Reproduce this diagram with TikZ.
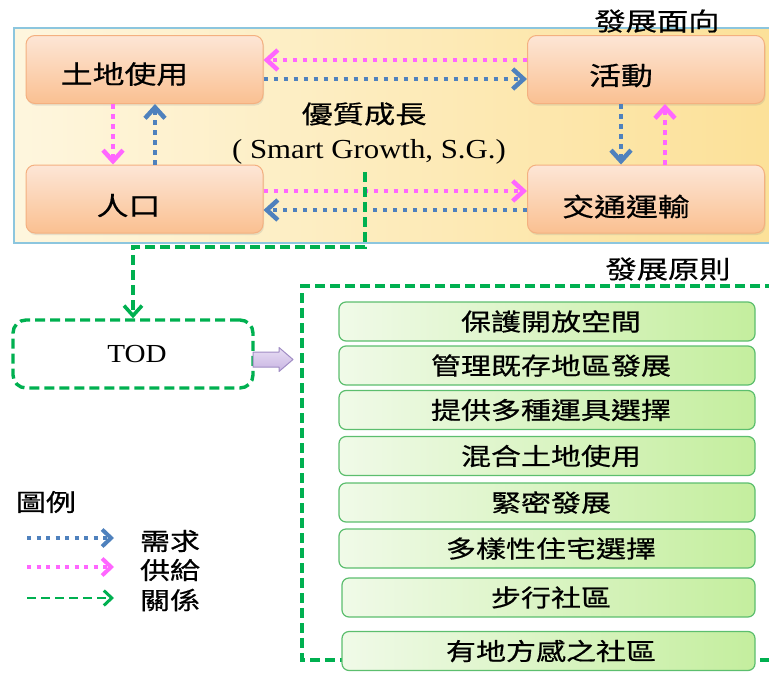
\documentclass[tikz,border=0pt]{standalone}
\usepackage{fontspec}
\newfontfamily\cjk{Noto Sans CJK TC}[FakeStretch=1.25,FakeBold=0.6]
\newfontfamily\serifw{Liberation Serif}[FakeStretch=1.12]
\usetikzlibrary{arrows.meta,shadows}
\definecolor{dblue}{RGB}{79,129,189}
\definecolor{dpink}{RGB}{255,102,255}
\definecolor{dgreen}{RGB}{0,176,80}
\definecolor{panelline}{RGB}{140,198,222}
\definecolor{panelL}{RGB}{254,246,222}
\definecolor{panelR}{RGB}{252,224,150}
\definecolor{orT}{RGB}{253,230,214}
\definecolor{orB}{RGB}{250,192,145}
\definecolor{orline}{RGB}{244,176,128}
\definecolor{grL}{RGB}{240,250,232}
\definecolor{grR}{RGB}{196,238,158}
\definecolor{grline}{RGB}{92,190,110}
\definecolor{purT}{RGB}{232,222,244}
\definecolor{purB}{RGB}{200,180,226}
\definecolor{purD}{RGB}{160,140,196}
\tikzset{
  orbox/.style={rectangle, rounded corners=9pt, draw=orline, line width=1pt,
    top color=orT, bottom color=orB, minimum width=237pt, minimum height=68pt,
    inner sep=0pt,
    drop shadow={opacity=0.18, shadow xshift=1pt, shadow yshift=-2pt}},
  ortext/.style={inner sep=0pt, font=\cjk\fontsize{25.5}{28}\selectfont},
  grbox/.style={rectangle, rounded corners=7pt, draw=grline, line width=1.2pt,
    left color=grL, right color=grR, minimum height=39pt,
    inner sep=0pt, font=\cjk\fontsize{24}{27}\selectfont},
  cjklbl/.style={inner sep=0pt, font=\cjk\fontsize{25}{28}\selectfont},
  tip/.style={-{Straight Barb[length=11pt,width=20pt,line width=4.5pt]}},
  bluedot/.style={draw=dblue, line width=3.8pt, dash pattern=on 4.5pt off 5.5pt, tip},
  pinkdot/.style={draw=dpink, line width=3.8pt, dash pattern=on 4.5pt off 5.5pt, tip},
  greendash/.style={draw=dgreen, line width=3.4pt, dash pattern=on 10pt off 5pt},
  legtip/.style={-{Straight Barb[length=9pt,width=17pt,line width=4pt]}},
  legtext/.style={inner sep=0pt, font=\cjk\fontsize{24}{27}\selectfont},
}
\begin{document}
\begin{tikzpicture}[x=1pt,y=-1pt]
\useasboundingbox (0,0) rectangle (769,673);
\clip (0,0) rectangle (769,673);
% panel
\node[rectangle, draw=panelline, line width=1.5pt, left color=panelL, right color=panelR,
  minimum width=780pt, minimum height=215pt, inner sep=0pt, anchor=north west] (panel) at (13,27) {};
% orange boxes
\node[orbox] (land) at (144.5,69.5) {};
\node[orbox] (pop)  at (144.5,199) {};
\node[orbox] (act)  at (646,69.5) {};
\node[orbox] (tra)  at (646,199) {};
\node[ortext] (landt) at ([xshift=-20pt,yshift=-4.5pt]land.center) {土地使用};
\node[ortext] (popt)  at ([xshift=-16pt,yshift=-6.5pt]pop.center) {人口};
\node[ortext] (actt)  at ([xshift=-25pt,yshift=-6pt]act.center) {活動};
\node[ortext] (trat)  at ([xshift=-20pt,yshift=-7.5pt]tra.center) {交通運輸};
% labels
\node[cjklbl] (face) at (657,21) {發展面向};
\node[cjklbl] (sgcn) at (364,114) {優質成長};
\node[inner sep=0pt, font=\serifw\fontsize{27.5}{31}\selectfont] (sg) at (369,152) {( Smart Growth, S.G.)};
% arrows in panel
\draw[pinkdot] ([yshift=9.5pt]act.west) -- ([yshift=9.5pt]land.east);
\draw[bluedot] ([yshift=-9.5pt]land.east) -- ([yshift=-9.5pt]act.west);
\draw[pinkdot] ([yshift=8pt]pop.east) -- ([yshift=8pt]tra.west);
\draw[bluedot] ([yshift=-11pt]tra.west) -- ([yshift=-11pt]pop.east);
\draw[pinkdot] ([xshift=-31.5pt]land.south) -- ([xshift=-31.5pt]pop.north);
\draw[bluedot] ([xshift=10.5pt]pop.north) -- ([xshift=10.5pt]land.south);
\draw[bluedot] ([xshift=-25pt]act.south) -- ([xshift=-25pt]tra.north);
\draw[pinkdot] ([xshift=19pt]tra.north) -- ([xshift=19pt]act.south);
% TOD
\node[rectangle, rounded corners=13pt, draw=dgreen, line width=3.4pt, dash pattern=on 10pt off 5pt,
  minimum width=240pt, minimum height=68pt, inner sep=0pt] (tod) at (133,354) {};
\node[inner sep=0pt, font=\serifw\fontsize{26}{30}\selectfont] (todt) at (137,354) {TOD};
\coordinate (sgstart) at (365,172);
\draw[greendash, -{Straight Barb[length=10pt,width=18pt,line width=3.6pt]}]
  (sgstart) -- (sgstart |- 0,247) -| (tod.north);
% purple block arrow
\path[draw=purD, top color=purT, bottom color=purB, line width=1pt, line join=round]
  (253,352) -- (279,352) -- (279,347.5) -- (293,359.5) -- (279,371.5) -- (279,367) -- (253,367) -- cycle;
% principle frame
\draw[greendash] (790,286) -- (302,286) -- (302,660) -- (790,660);
\node[cjklbl] (prin) at (668,269) {發展原則};
% green boxes
\node[grbox, minimum width=416pt] (g1) at (547,321.5) {\hspace*{8pt}保護開放空間};
\node[grbox, minimum width=416pt] (g2) at (547,365.5) {\hspace*{8pt}管理既存地區發展};
\node[grbox, minimum width=416pt] (g3) at (547,410) {\hspace*{8pt}提供多種運具選擇};
\node[grbox, minimum width=416pt] (g4) at (547,456) {\hspace*{8pt}混合土地使用};
\node[grbox, minimum width=416pt] (g5) at (547,502.5) {\hspace*{8pt}緊密發展};
\node[grbox, minimum width=416pt] (g6) at (547,548.5) {\hspace*{8pt}多樣性住宅選擇};
\node[grbox, minimum width=413pt] (g7) at (548.5,597.5) {\hspace*{5pt}步行社區};
\node[grbox, minimum width=413pt] (g8) at (548.5,651) {\hspace*{5pt}有地方感之社區};
% legend
\node[legtext] (leg) at (46,502) {圖例};
\coordinate (lb1) at (27,538); \coordinate (lb2) at (114,538);
\coordinate (lp1) at (27,567); \coordinate (lp2) at (114,567);
\coordinate (lg1) at (27,598); \coordinate (lg2) at (114,598);
\draw[draw=dblue, line width=3.4pt, dash pattern=on 4pt off 5.5pt, legtip] (lb1) -- (lb2);
\draw[draw=dpink, line width=3.4pt, dash pattern=on 4pt off 5.5pt, legtip] (lp1) -- (lp2);
\draw[draw=dgreen, line width=2.6pt, dash pattern=on 9pt off 5pt, -{Straight Barb[length=8pt,width=15pt,line width=3pt]}] (lg1) -- (lg2);
\node[legtext] (t1) at (170,541) {需求};
\node[legtext] (t2) at (170,570) {供給};
\node[legtext] (t3) at (170,600) {關係};
\end{tikzpicture}
\end{document}
